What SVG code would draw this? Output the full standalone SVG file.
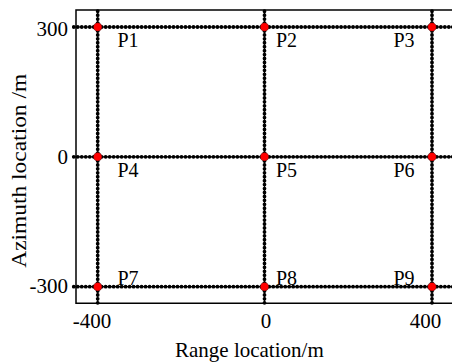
<svg xmlns="http://www.w3.org/2000/svg" width="452" height="362" viewBox="0 0 452 362" font-family="'Liberation Serif', 'Times New Roman', Times, serif">
<style>
  text { font-family: "Liberation Serif", "Times New Roman", Times, serif; fill: #000; }
  .tick { font-size: 21px; }
  .lbl { font-size: 21px; }
  .pt { font-size: 20px; }
  .dotted { fill: none; stroke: #000; stroke-width: 3.8; stroke-linecap: round; }
  .string { fill: none; stroke: #000; stroke-width: 1.2; }
  .hdot { stroke-dasharray: 0 3.99; }
  .vdot { stroke-dasharray: 0 3.94; }
  .axis { fill: none; stroke: #000; stroke-width: 1.5; }
  .mk { fill: #ff0000; stroke: #000; stroke-width: 0.4; }
</style>
<rect width="452" height="362" fill="#fff"/>
<g id="axes">
  <path class="axis" d="M452 10 H76 V303.3 H452"/>
</g>
<g id="connectors">
  <path class="string" d="M74 27 H452 M74 156.8 H452 M74 286.7 H452 M97.7 11 V303 M264.5 11 V303 M432 11 V303"/>
  <path class="dotted hdot" d="M73.76 27 H454"/>
  <path class="dotted hdot" d="M73.76 156.8 H454"/>
  <path class="dotted hdot" d="M73.76 286.7 H454"/>
  <path class="dotted vdot" d="M97.7 11.24 V304"/>
  <path class="dotted vdot" d="M264.5 11.24 V304"/>
  <path class="dotted vdot" d="M432 11.24 V304"/>
</g>
<g id="P1"><circle class="mk" cx="97.7" cy="27" r="4.3"/><text class="pt" x="117.5" y="46.7">P1</text></g>
<g id="P2"><circle class="mk" cx="264.5" cy="27" r="4.3"/><text class="pt" x="276" y="46.7">P2</text></g>
<g id="P3"><circle class="mk" cx="432" cy="27" r="4.3"/><text class="pt" x="393.5" y="46.7">P3</text></g>
<g id="P4"><circle class="mk" cx="97.7" cy="156.8" r="4.3"/><text class="pt" x="117.5" y="176.7">P4</text></g>
<g id="P5"><circle class="mk" cx="264.5" cy="156.8" r="4.3"/><text class="pt" x="276" y="176.7">P5</text></g>
<g id="P6"><circle class="mk" cx="432" cy="156.8" r="4.3"/><text class="pt" x="393.5" y="176.7">P6</text></g>
<g id="P7"><circle class="mk" cx="97.7" cy="286.7" r="4.3"/><text class="pt" x="117.5" y="285">P7</text></g>
<g id="P8"><circle class="mk" cx="264.5" cy="286.7" r="4.3"/><text class="pt" x="276" y="285">P8</text></g>
<g id="P9"><circle class="mk" cx="432" cy="286.7" r="4.3"/><text class="pt" x="393.5" y="285">P9</text></g>
<g id="yticks" text-anchor="end">
  <text class="tick" x="68" y="36">300</text>
  <text class="tick" x="68" y="163.5">0</text>
  <text class="tick" x="68" y="293">-300</text>
</g>
<g id="xticks" text-anchor="middle">
  <text class="tick" x="92" y="328">-400</text>
  <text class="tick" x="266" y="328">0</text>
  <text class="tick" x="425.5" y="328">400</text>
</g>
<text class="lbl" x="175" y="356.7">Range location/m</text>
<text class="lbl" transform="translate(26 170.8) rotate(-90)" text-anchor="middle" textLength="194" lengthAdjust="spacingAndGlyphs">Azimuth location /m</text>
</svg>
